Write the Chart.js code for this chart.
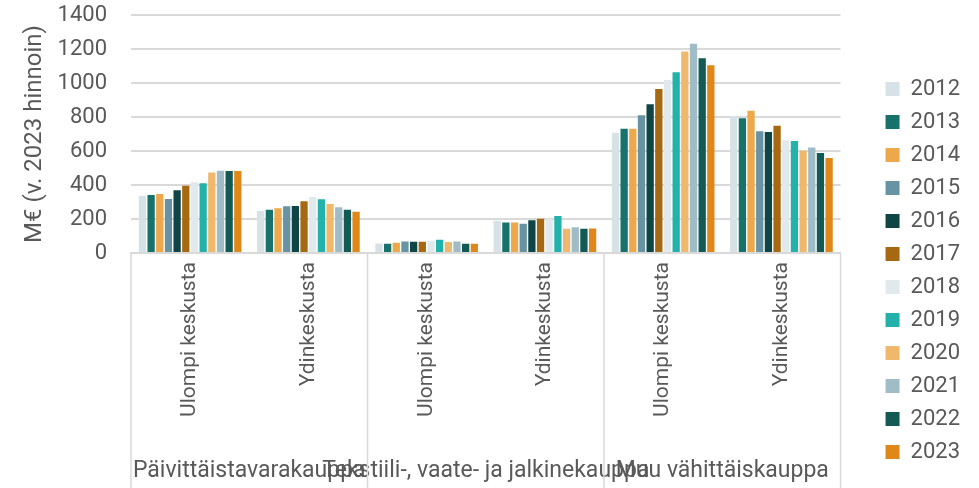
<!DOCTYPE html>
<html>
<head>
<meta charset="utf-8">
<script src="https://cdn.jsdelivr.net/npm/chart.js@4"></script>
<style>
  body { margin: 0; background: #fff; overflow: hidden; }
  #wrap { width: 979px; height: 488px; position: relative; }
</style>
</head>
<body>
<div id="wrap"><canvas id="chart"></canvas></div>
<script>
const categories = ['Ulompi keskusta', 'Ydinkeskusta', 'Ulompi keskusta', 'Ydinkeskusta', 'Ulompi keskusta', 'Ydinkeskusta'];
const groups = ['Päivittäistavarakauppa', 'Tekstiili-, vaate- ja jalkinekauppa', 'Muu vähittäiskauppa'];
const years = ['2012', '2013', '2014', '2015', '2016', '2017', '2018', '2019', '2020', '2021', '2022', '2023'];
const yTicks = [0, 200, 400, 600, 800, 1000, 1200, 1400];

const v2012 = [337, 247, 56, 190, 708, 806];
const v2013 = [341, 255, 54, 180, 731, 792];
const v2014 = [347, 263, 60, 180, 731, 837];
const v2015 = [318, 275, 68, 172, 810, 716];
const v2016 = [369, 276, 66, 192, 875, 712];
const v2017 = [396, 304, 66, 202, 965, 749];
const v2018 = [416, 329, 72, 200, 1018, 663];
const v2019 = [410, 316, 78, 218, 1063, 659];
const v2020 = [474, 288, 64, 142, 1186, 602];
const v2021 = [484, 269, 68, 152, 1231, 620];
const v2022 = [482, 255, 54, 142, 1145, 588];
const v2023 = [482, 243, 54, 144, 1104, 559];

const seriesValues = [v2012, v2013, v2014, v2015, v2016, v2017, v2018, v2019, v2020, v2021, v2022, v2023];
const colors = ['#d7e2e6', '#17726c', '#eca84a', '#6893a3', '#0f4645', '#a76812',
                '#e1e9ec', '#22b2a9', '#f0b86c', '#a0bcc6', '#135a55', '#e08719'];

const textColor = '#595959';
const lineColor = '#d9d9d9';

// vertical separators between the main groups, below the plot
const groupLines = {
  id: 'groupLines',
  afterDraw(chart) {
    const x = chart.scales.x;
    const ctx = chart.ctx;
    const bottom = chart.chartArea.bottom;
    const edges = [x.left,
      (x.getPixelForValue(1) + x.getPixelForValue(2)) / 2,
      (x.getPixelForValue(3) + x.getPixelForValue(4)) / 2,
      x.right];
    ctx.save();
    ctx.strokeStyle = lineColor;
    ctx.lineWidth = 1.5;
    edges.forEach(px => {
      ctx.beginPath();
      ctx.moveTo(px, bottom);
      ctx.lineTo(px, chart.height);
      ctx.stroke();
    });
    ctx.restore();
  }
};

const ctx = document.getElementById('chart').getContext('2d');
new Chart(ctx, {
  type: 'bar',
  data: {
    labels: categories,
    datasets: years.map((yr, i) => ({
      label: yr,
      data: seriesValues[i],
      backgroundColor: colors[i],
      borderWidth: 0,
      categoryPercentage: 0.88,
      barPercentage: 0.84
    }))
  },
  options: {
    responsive: true,
    maintainAspectRatio: false,
    animation: false,
    layout: { padding: { top: 15, right: 9, bottom: 14, left: 0 } },
    plugins: {
      tooltip: { enabled: false },
      legend: {
        position: 'right',
        align: 'end',
        labels: {
          color: textColor,
          font: { family: 'Roboto', size: 22 },
          boxWidth: 14,
          boxHeight: 14,
          padding: 11
        }
      }
    },
    scales: {
      y: {
        min: 0,
        max: 1400,
        afterBuildTicks: s => { s.ticks = yTicks.map(v => ({ value: v })); },
        afterFit: s => { s.width = 131; s.paddingTop = 12; s.paddingBottom = 12; },
        grid: { color: lineColor, lineWidth: 2, drawTicks: false },
        border: { display: false },
        ticks: {
          color: textColor,
          font: { family: 'Roboto', size: 22 },
          padding: 24,
          callback: v => String(v)
        },
        title: {
          display: true,
          text: 'M€ (v. 2023 hinnoin)',
          color: textColor,
          font: { family: 'Roboto', size: 24 },
          padding: { top: 21, bottom: 0 }
        }
      },
      spacer: {
        position: 'right',
        display: true,
        afterFit: s => { s.width = 34; },
        grid: { display: false },
        border: { display: false },
        ticks: { display: false }
      },
      x: {
        weight: 0,
        afterFit: s => { s.height = 188; },
        grid: { drawOnChartArea: false, drawTicks: false },
        border: { display: true, color: lineColor, width: 2 },
        ticks: {
          color: textColor,
          font: { family: 'Roboto', size: 21 },
          minRotation: 90,
          maxRotation: 90,
          autoSkip: false,
          padding: 9
        }
      },
      x2: {
        type: 'category',
        labels: groups,
        position: 'bottom',
        weight: 1,
        offset: true,
        afterFit: s => { s.height = 33; },
        grid: { display: false },
        border: { display: false },
        ticks: {
          color: textColor,
          font: { family: 'Roboto', size: 23 },
          autoSkip: false,
          minRotation: 0,
          maxRotation: 0,
          mirror: true,   // mirrored labels are not clipped to the axis box
          padding: -44
        }
      }
    }
  },
  plugins: [groupLines]
});
</script>
</body>
</html>
